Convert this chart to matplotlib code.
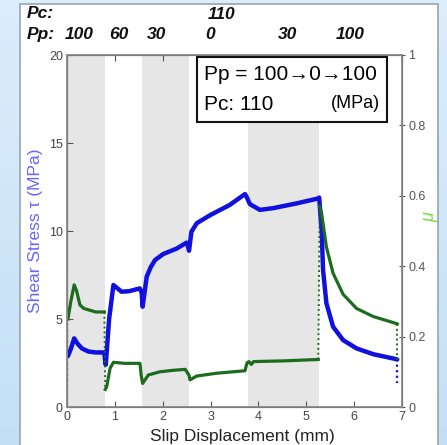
import numpy as np
import matplotlib
matplotlib.use("Agg")
from matplotlib import pyplot as plt
from matplotlib.patches import Rectangle

plt.rcParams['font.family'] = ['Liberation Sans', 'DejaVu Sans']

# shear stress (MPa), left axis
tau_x = [0.02, 0.08, 0.15, 0.22, 0.31, 0.45, 0.6, 0.78,
         0.79, 0.81, 0.88, 0.97, 1.05, 1.14, 1.3, 1.52, 1.56, 1.58, 1.665, 1.75, 1.84,
         2.01, 2.29, 2.5, 2.53, 2.55, 2.6, 2.71, 2.99, 3.4, 3.72, 3.76, 3.82, 4.03,
         4.31, 4.8, 5.25, 5.27, 5.32, 5.35, 5.42, 5.56, 5.77, 6.05, 6.4, 6.86, 6.9]
tau_y = [2.9, 3.3, 3.9, 3.6, 3.33, 3.15, 3.1, 3.1,
         2.8, 2.4, 5.0, 6.93, 6.75, 6.55, 6.58, 6.74, 6.5, 5.7, 7.4, 7.95, 8.35,
         8.69, 9.0, 9.34, 9.1, 8.88, 9.96, 10.44, 10.9, 11.48, 12.1, 11.9, 11.53, 11.2,
         11.3, 11.57, 11.85, 11.9, 10.05, 7.8, 5.9, 4.56, 3.8, 3.33, 3.0, 2.73, 2.7]
tau_start = [1.15, 4.8]   # dotted jump at x=0
tau_end = 1.36            # dotted drop at unloading

# friction coefficient, right axis (three solid pieces joined by dotted jumps)
mu_x1 = [0.02, 0.08, 0.15, 0.2, 0.27, 0.35, 0.45, 0.6, 0.78]
mu_y1 = [0.25, 0.30, 0.347, 0.33, 0.29, 0.28, 0.276, 0.27, 0.27]
mu_x2 = [0.80, 0.83, 0.9, 0.97, 1.2, 1.525, 1.55, 1.58, 1.7, 1.94, 2.2, 2.47, 2.55,
         2.57, 2.71, 3.13, 3.72, 3.76, 3.8, 3.85, 3.9, 4.52, 5.25]
mu_y2 = [0.05, 0.058, 0.11, 0.127, 0.124, 0.124, 0.09, 0.067, 0.091, 0.10, 0.104,
         0.107, 0.09, 0.077, 0.088, 0.096, 0.103, 0.125, 0.129, 0.121, 0.129, 0.131, 0.135]
mu_x3 = [5.28, 5.32, 5.42, 5.56, 5.77, 6.05, 6.4, 6.86, 6.9]
mu_y3 = [0.57, 0.55, 0.455, 0.38, 0.32, 0.28, 0.257, 0.238, 0.236]
mu_start = [0.38, 0.25]
mu_end = 0.13

# shaded steps
bands = [(0.0, 0.79), (1.57, 2.55), (3.78, 5.27)]

pc_label = '110'
pc_x = 3.22
pp_labels = ['100', '60', '30', '0', '30', '100']
pp_x = [0.25, 1.09, 1.88, 2.99, 4.6, 5.91]

blue = '#1010e0'
green = '#1d6b1d'

fig = plt.figure(figsize=(4.47, 4.45), dpi=100)

# slide background: blue side strips, white panel
bg = fig.add_axes([0, 0, 1, 1], zorder=-10)
grad = np.linspace(0, 1, 256).reshape(-1, 1) * np.ones((1, 4))
bg.imshow(grad, aspect='auto', cmap=matplotlib.colors.LinearSegmentedColormap.from_list(
    'b', ['#dcedfb', '#c4e0f7']), extent=[0, 1, 0, 1])
bg.add_patch(Rectangle((20 / 447, -0.01), 418 / 447, 1.0 - 4 / 445 + 0.01,
                       facecolor='white', edgecolor='#9aa4ad', lw=1.2))
bg.set_xlim(0, 1)
bg.set_ylim(0, 1)
bg.axis('off')

ax = fig.add_axes([67 / 447, 1 - 407 / 445, 335 / 447, 352 / 445])
ax.patch.set_alpha(0)
for a, b in bands:
    ax.axvspan(a, b, color='#e6e6e6', lw=0, zorder=0)

ax2 = ax.twinx()

dots = (0, (1, 1.5))
ax.plot([0, 0], tau_start, ls=dots, color=blue, lw=1.6)
ax.plot(tau_x, tau_y, color=blue, lw=3.2, solid_capstyle='round', zorder=3)
ax.plot([tau_x[-1], tau_x[-1]], [tau_y[-1], tau_end], ls=dots, color=blue, lw=1.6)

ax2.plot([0, 0], mu_start, ls=dots, color=green, lw=1.4)
ax2.plot(mu_x1, mu_y1, color=green, lw=2.3)
ax2.plot([mu_x1[-1], mu_x2[0]], [mu_y1[-1], mu_y2[0]], ls=dots, color=green, lw=1.4)
ax2.plot(mu_x2, mu_y2, color=green, lw=2.3)
ax2.plot([mu_x2[-1], mu_x3[0]], [mu_y2[-1], mu_y3[0]], ls=dots, color=green, lw=1.4)
ax2.plot(mu_x3, mu_y3, color=green, lw=2.3)
ax2.plot([mu_x3[-1], mu_x3[-1]], [mu_y3[-1], mu_end], ls=dots, color=green, lw=1.4)

ax.set_xlim(0, 7)
ax.set_ylim(0, 20)
ax2.set_ylim(0, 1)
ax.set_xticks(range(8))
ax.set_yticks([0, 5, 10, 15, 20])
ax2.set_yticks([0, 0.2, 0.4, 0.6, 0.8, 1])
ax2.set_yticklabels(['0', '0.2', '0.4', '0.6', '0.8', '1'])

for s in ['left', 'right', 'top', 'bottom']:
    ax2.spines[s].set_color('#8a8a8a')
    ax2.spines[s].set_linewidth(1.3)
ax.tick_params(axis='x', direction='in', top=True, length=4, color='#555555',
               labelsize=9, labelcolor='#444444', pad=3)
ax.tick_params(axis='y', direction='in', length=4, color='#555555',
               labelsize=9, labelcolor='#444444', pad=3)
ax2.tick_params(axis='y', direction='inout', length=5, color='#555555',
                labelsize=9, labelcolor='#555555', pad=2)

ax.set_ylabel('Shear Stress τ (MPa)', color='#6666ff', fontsize=12.5, labelpad=4)
fig.text(242 / 447, 1 - 437 / 445, 'Slip Displacement (mm)', fontsize=12.5,
         ha='center', va='center', color='#222222')
fig.text(430 / 447, 1 - 217 / 445, 'μ', color='#77dd44', fontsize=13,
         style='italic', rotation=90, ha='center', va='center')

# pressure steps above the axes
tr = ax.get_xaxis_transform()
top_kw = dict(fontsize=12.5, weight='bold', style='italic', va='center', color='#111111')
fig.text(27 / 447, 1 - 14 / 445, 'Pc:', ha='left', **top_kw)
fig.text(27 / 447, 1 - 35 / 445, 'Pp:', ha='left', **top_kw)
ax.text(pc_x, 1.116, pc_label, transform=tr, ha='center', **top_kw)
for lab, x in zip(pp_labels, pp_x):
    ax.text(x, 1.057, lab, transform=tr, ha='center', **top_kw)

# condition box
box_l, box_r = (197 - 67) / 335, (387 - 67) / 335
box_b, box_t = (407 - 122) / 352, (407 - 57) / 352
ax.add_patch(Rectangle((box_l, box_b), box_r - box_l, box_t - box_b,
                       transform=ax.transAxes, facecolor='white', edgecolor='#111111',
                       lw=1.5, zorder=5))
ax.text(box_l + 0.02, (407 - 74) / 352, 'Pp = 100→0→100', transform=ax.transAxes,
        fontsize=15, ha='left', va='center', zorder=6)
ax.text(box_l + 0.02, (407 - 104) / 352, 'Pc: 110', transform=ax.transAxes,
        fontsize=15, ha='left', va='center', zorder=6)
ax.text(box_r - 0.02, (407 - 104) / 352, '(MPa)', transform=ax.transAxes,
        fontsize=13, ha='right', va='center', zorder=6)

plt.savefig('out.png', dpi=100)
